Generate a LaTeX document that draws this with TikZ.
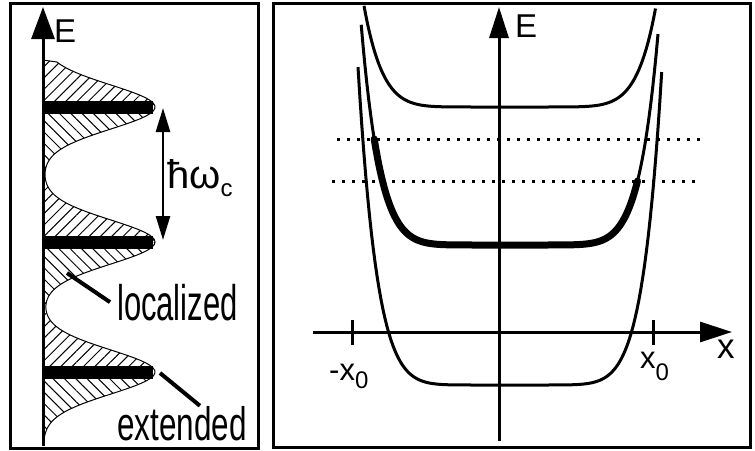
\documentclass[tikz,border=0pt]{standalone}
\usepackage{fontspec}
\setmainfont{Liberation Sans}
\usetikzlibrary{arrows.meta, patterns.meta}

\begin{document}
\begin{tikzpicture}[
    x=1pt, y=-1pt,
    frame/.style={draw, line width=3pt},
    eaxis/.style={line width=3pt},
    lvl/.style={line width=13pt},
    dosline/.style={line width=1pt},
    curve/.style={line width=3pt, line join=round},
    thickcurve/.style={line width=7pt, line join=round, line cap=round},
    dotline/.style={line width=3pt, dash pattern=on 3pt off 7pt},
    leader/.style={line width=4pt},
    lbl/.style={inner sep=0pt, anchor=base west},
    hatchup/.style={pattern={Lines[angle=45, distance=8pt, line width=1pt]}},
    hatchdown/.style={pattern={Lines[angle=-45, distance=8pt, line width=1pt]}},
    declare function={g(\t)=exp(-min((\t)*(\t)/2,12));
                      dens(\s)=43+112*(g((\s-107)/22)+g((\s-242)/22)+g((\s-372)/22));}
]
    \useasboundingbox (0,0) rectangle (755,450);

    % Landau levels
    \draw[frame] (10,3) rectangle (258,448);
    \begin{scope}
        \clip (43,60) -- plot[variable=\s, domain=62:445, samples=150] ({dens(\s)}, \s) -- (43,445) -- cycle;
        \foreach \c/\a/\b in {107/50/174.5, 242/174.5/307, 372/307/450} {
            \fill[hatchup] (43,\a) rectangle (170,\c);
            \fill[hatchdown] (43,\c) rectangle (170,\b);
        }
    \end{scope}
    \draw[dosline] (43,60) -- plot[variable=\s, domain=62:445, samples=150] ({dens(\s)}, \s);
    \foreach \c in {107,242,372}
        \draw[lvl] (43,\c) -- (153,\c);
    \draw[eaxis, -{Triangle[length=32pt, width=23pt]}] (43,446) -- (43,7);
    \node[lbl, font=\fontsize{33}{33}\selectfont] (eleft) at (54,42) {E};

    \coordinate (hwtop) at (163,108);
    \coordinate (hwbot) at (163,240);
    \draw[line width=2.5pt, {Triangle[length=24pt, width=14pt]}-{Triangle[length=24pt, width=14pt]}] (hwtop) -- (hwbot);
    \node[lbl, font=\fontsize{40}{40}\selectfont] (hw) at (167,188) {ħω\raisebox{-8pt}{\fontsize{24}{24}\selectfont c}};

    \coordinate (locpt) at (67,273);
    \node[lbl, font=\fontsize{50}{50}\selectfont, xscale=0.62] (loc) at (117,320) {localized};
    \draw[leader] (locpt) -- ([xshift=-7pt]loc.west);
    \coordinate (extpt) at (160,373);
    \node[lbl, font=\fontsize{47}{47}\selectfont, xscale=0.67] (ext) at (117,440) {extended};
    \draw[leader] (extpt) -- ([xshift=18pt]ext.north);

    % edge states
    \draw[frame] (273,3) rectangle (750,447);
    \draw[dotline] (337,139) -- (702,139);
    \draw[dotline] (332,181) -- (697,181);
    \draw[curve] plot[domain=-146:145.5, samples=160] ({510+\x}, {107-40*(abs(\x)/130)^8});
    \draw[curve] plot[domain=-148.8:148, samples=160] ({510+\x}, {245-64*(abs(\x)/127.5)^8});
    \draw[thickcurve] plot[domain=-135.8:127.5, samples=160] ({510+\x}, {245-64*(abs(\x)/127.5)^8});
    \draw[curve] plot[domain=-152:151.7, samples=160] ({510+\x}, {385-53*(abs(\x)/121.5)^8});

    \draw[eaxis, -{Triangle[length=31pt, width=19pt]}] (499,441) -- (499,7);
    \draw[eaxis, -{Triangle[length=32pt, width=20pt]}] (313,332) -- (732,332);
    \draw[eaxis] (352,320) -- (352,345);
    \draw[eaxis] (653,320) -- (653,345);
    \node[lbl, font=\fontsize{33}{33}\selectfont] (eright) at (515,37) {E};
    \node[lbl, font=\fontsize{35}{35}\selectfont] (xlab) at (717,358) {x};
    \node[lbl, font=\fontsize{31}{31}\selectfont] (xpos) at (640,368) {x\raisebox{-12pt}{\fontsize{24}{24}\selectfont 0}};
    \node[lbl, font=\fontsize{31}{31}\selectfont] (xneg) at (329,380) {-x\raisebox{-8pt}{\fontsize{24}{24}\selectfont 0}};
\end{tikzpicture}
\end{document}
